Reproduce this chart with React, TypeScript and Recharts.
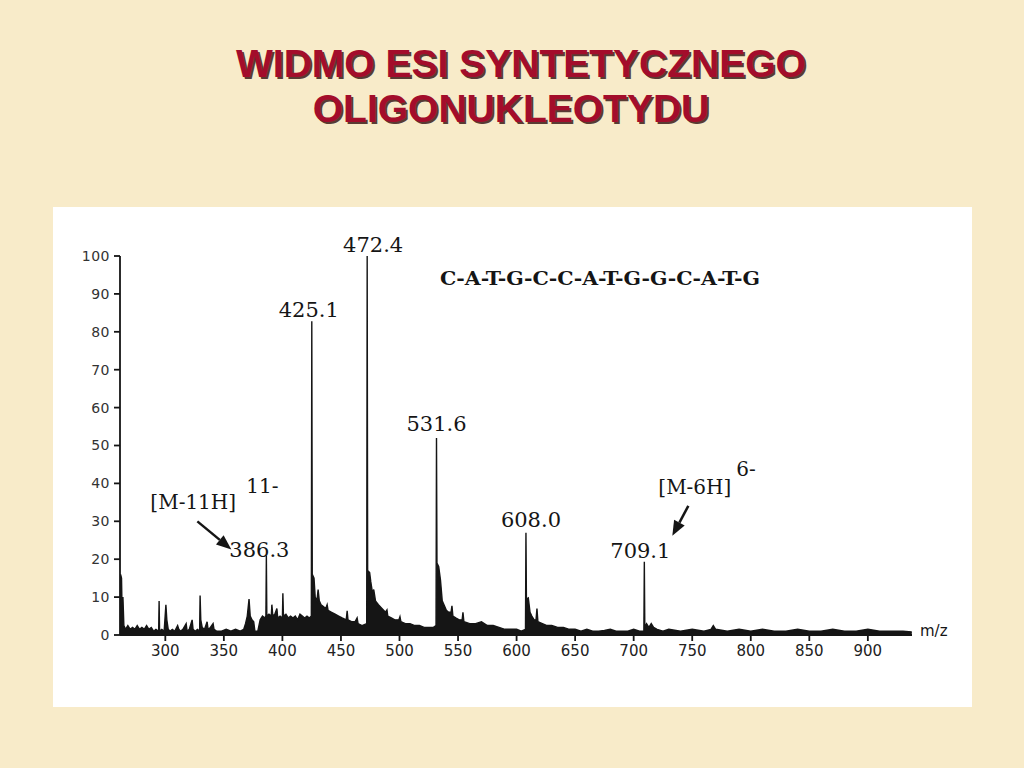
import React from 'react';
import { ComposedChart, Area, XAxis, YAxis, ReferenceDot } from 'recharts';

// [m/z, relative intensity %]
const spectrum: [number, number][] = [
  [261.4, 0], [261.8, 16], [262.6, 15], [263.2, 4], [263.8, 10], [264.6, 2.5], [266, 1.5], [268, 2.5],
  [270, 1.5], [272, 2], [274, 1.5], [276, 2.5], [278, 1.5], [280, 2], [282, 1.5], [284, 2.5], [286, 1.5],
  [288, 2], [290, 1], [292, 1.5], [294.3, 1], [294.7, 9], [295.1, 1], [297, 1.5], [299, 1], [300.5, 8],
  [301.3, 4], [302.5, 1.5], [304, 1], [306, 1.5], [308, 1], [310.5, 2.5], [311.5, 1.5], [313, 1], [315, 1.5],
  [317.8, 3], [318.6, 1], [320.5, 1.5], [322.9, 4], [323.7, 1.5], [325.5, 1], [327.5, 1.5], [329.3, 1],
  [329.7, 10.4], [330.3, 4], [331.5, 2], [333.5, 1.5], [335.7, 3.5], [336.5, 1.5], [338.5, 2], [340.8, 3],
  [341.6, 1.5], [344, 1], [348, 1], [352, 1.5], [356, 1], [360, 1.5], [364, 1], [367, 1.5], [368.5, 3],
  [370, 5], [371.5, 9.5], [372.5, 5], [374, 4], [375.5, 3.5], [376.5, 1], [379, 1], [381, 4], [383, 5],
  [385, 4.5], [385.9, 5], [386.3, 21], [386.7, 5], [388.5, 5.5], [390.5, 5], [391, 8], [391.8, 5],
  [393.5, 5.5], [395.3, 7], [396, 4.5], [398, 5], [400, 4.5], [400.4, 11], [400.9, 5], [403, 5.5],
  [405, 4.5], [407, 5], [409, 4.5], [411, 5], [413, 4], [415, 5.5], [417, 5], [419, 4.5], [421, 5],
  [423, 4.5], [424.7, 5], [425.1, 82.8], [425.5, 16], [427, 15], [428, 10], [429.5, 9], [430.5, 12],
  [431.5, 9], [433, 8], [435, 7.5], [437, 7], [438.2, 8], [439, 6.5], [442, 6], [445, 5.5], [448, 5],
  [451, 4.5], [454.5, 4], [455.3, 6.4], [456, 4], [459, 3.5], [462, 3.5], [463.8, 4.5], [464.6, 3],
  [468, 2.5], [472, 3], [472.4, 100], [472.8, 17], [474.5, 16.5], [475.5, 14], [477, 11], [478, 12],
  [479.5, 9], [482, 8], [485, 7], [488, 6], [489.3, 6.6], [490, 5], [493, 4.5], [496, 4], [499.5, 4],
  [500.4, 4.8], [501.2, 3.5], [505, 3], [509, 3], [513, 2.5], [517, 2.5], [521, 2], [525, 2], [529, 2],
  [531.2, 2.5], [531.6, 52], [532, 19], [533.5, 18], [535, 14.5], [536.5, 9], [538, 8], [540, 6.5],
  [542, 6], [544, 6], [544.8, 7.7], [545.6, 5], [548, 4.5], [551, 4], [553.5, 4], [554.2, 6], [555, 3.5],
  [560, 3], [565, 3], [570, 3.5], [575, 2.5], [580, 2.5], [585, 2], [590, 1.5], [595, 1.5], [600, 1.5],
  [604, 1], [607.6, 1.5], [608, 27], [608.4, 9.5], [610, 9.8], [611.5, 6], [613, 5], [615, 4], [616.6, 4],
  [617.4, 7], [618.2, 3.5], [622, 3], [626, 2.5], [630, 2.5], [635, 2], [640, 2], [645, 1.5], [650, 1.5],
  [655, 1], [660, 1.5], [665, 1], [670, 1], [675, 1.2], [680, 1.5], [685, 1], [690, 1], [695, 1],
  [700, 1.5], [705, 1], [708.7, 1], [709.1, 19.3], [709.5, 2], [711, 3], [713, 2], [715, 3], [717, 2],
  [720, 1.5], [725, 1], [730, 1.5], [740, 1], [750, 1.5], [760, 1], [766, 1.5], [768, 2.5], [770, 1.5],
  [780, 1], [790, 1.5], [800, 1], [810, 1.5], [820, 1], [830, 1], [840, 1.5], [850, 1], [860, 1],
  [870, 1.5], [880, 1], [890, 1], [900, 1.5], [910, 1], [920, 1], [930, 1], [937.5, 0.8],
];

const xTicks = [300, 350, 400, 450, 500, 550, 600, 650, 700, 750, 800, 850, 900];
const yTicks = [0, 10, 20, 30, 40, 50, 60, 70, 80, 90, 100];

const peaks = [
  { mz: 425.1, value: 82.8, text: '425.1' },
  { mz: 472.4, value: 100, text: '472.4' },
  { mz: 531.6, value: 52, text: '531.6' },
  { mz: 608.0, value: 27, text: '608.0' },
];

const ions = [
  { mz: 386.3, value: 21, text: '386.3', ion: '[M-11H]', charge: '11-' },
  { mz: 709.1, value: 19.3, text: '709.1', ion: '[M-6H]', charge: '6-' },
];

const sequence = 'C-A-T-G-C-C-A-T-G-G-C-A-T-G';
const titleLines = ['WIDMO ESI SYNTETYCZNEGO', 'OLIGONUKLEOTYDU'];

// label offsets in px from the peak top
const peakOffsets: Record<string, [number, number]> = {
  '425.1': [-3, -4],
  '472.4': [6, -4],
  '531.6': [0, -7],
  '608.0': [5, -6],
};

const ionLayout: Record<string, any> = {
  '386.3': { label: [-7, 2], ion: [-116, -46], charge: [-20, -62], arrow: [-69, -34, -35, -6] },
  '709.1': { label: [-4, -4], ion: [14, -68], charge: [92, -86], arrow: [44, -56, 28, -26] },
};

const data = spectrum.map(([mz, intensity]) => ({ mz, intensity }));

const ink = '#151515';
const serif = '"DejaVu Serif", serif';

const Arrow = ({ x1, y1, x2, y2 }: any) => {
  const a = Math.atan2(y2 - y1, x2 - x1);
  const len = 15;
  const w = 6;
  const bx = x2 - len * Math.cos(a);
  const by = y2 - len * Math.sin(a);
  const px = -Math.sin(a) * w;
  const py = Math.cos(a) * w;
  return (
    <g>
      <line x1={x1} y1={y1} x2={bx} y2={by} stroke={ink} strokeWidth={2.5} />
      <polygon points={`${x2},${y2} ${bx + px},${by + py} ${bx - px},${by - py}`} fill={ink} />
    </g>
  );
};

export default function App() {
  return (
    <div style={{ position: 'absolute', left: 0, top: 0, width: 1024, height: 768, background: '#f8ebc9', overflow: 'hidden' }}>
      {titleLines.map((line, i) => (
        <div
          key={line}
          style={{
            position: 'absolute',
            left: i === 0 ? 9 : -1,
            top: 41 + i * 45,
            width: 1024,
            textAlign: 'center',
            fontFamily: '"Liberation Sans", Arial, sans-serif',
            fontWeight: 'bold',
            fontSize: 39,
            lineHeight: '45px',
            color: '#a30d2b',
            textShadow: '2px 2px 0 rgba(45,10,10,0.8)',
          }}
        >
          {line}
        </div>
      ))}

      <div style={{ position: 'absolute', left: 53, top: 207, width: 919, height: 500, background: '#ffffff' }}>
        <svg style={{ position: 'absolute', left: 0, top: 0 }} width={919} height={500}>
          <text x={387} y={78} textLength={320} lengthAdjust="spacingAndGlyphs" fontFamily={serif} fontSize={19} fontWeight="bold" fill={ink}>
            {sequence}
          </text>
        </svg>
        <ComposedChart
          width={919}
          height={500}
          data={data}
          margin={{ top: 49, right: 60, bottom: 42, left: 17 }}
          style={{ position: 'absolute', left: 0, top: 0 }}
        >
          <XAxis
            type="number"
            dataKey="mz"
            domain={[261.3, 937.7]}
            allowDataOverflow
            ticks={xTicks}
            interval={0}
            height={30}
            tickSize={6}
            tickMargin={4}
            stroke={ink}
            strokeWidth={1.8}
            tick={{ fill: '#222', fontSize: 15, fontFamily: '"DejaVu Sans", sans-serif' }}
          />
          <YAxis
            type="number"
            domain={[0, 100]}
            ticks={yTicks}
            interval={0}
            width={50}
            tickSize={6}
            tickMargin={4}
            stroke={ink}
            strokeWidth={1.8}
            tick={{ fill: '#333', fontSize: 14, fontFamily: '"DejaVu Sans", sans-serif', letterSpacing: 0.5 }}
          />
          <Area
            type="linear"
            dataKey="intensity"
            stroke={ink}
            strokeWidth={1.4}
            fill={ink}
            fillOpacity={1}
            dot={false}
            activeDot={false}
            isAnimationActive={false}
          />
          {peaks.map((p) => (
            <ReferenceDot
              key={p.text}
              x={p.mz}
              y={p.value}
              r={0}
              ifOverflow="visible"
              shape={(s: any) => (
                <text
                  x={s.cx + peakOffsets[p.text][0]}
                  y={s.cy + peakOffsets[p.text][1]}
                  textAnchor="middle"
                  fontFamily={serif}
                  fontSize={21}
                  fill={ink}
                >
                  {p.text}
                </text>
              )}
            />
          ))}
          {ions.map((p) => {
            const l = ionLayout[p.text];
            return (
              <ReferenceDot
                key={p.text}
                x={p.mz}
                y={p.value}
                r={0}
                ifOverflow="visible"
                shape={(s: any) => (
                  <g fontFamily={serif} fill={ink}>
                    <text x={s.cx + l.label[0]} y={s.cy + l.label[1]} textAnchor="middle" fontSize={21}>
                      {p.text}
                    </text>
                    <text x={s.cx + l.ion[0]} y={s.cy + l.ion[1]} fontSize={20}>
                      {p.ion}
                    </text>
                    <text x={s.cx + l.charge[0]} y={s.cy + l.charge[1]} fontSize={20}>
                      {p.charge}
                    </text>
                    <Arrow
                      x1={s.cx + l.arrow[0]}
                      y1={s.cy + l.arrow[1]}
                      x2={s.cx + l.arrow[2]}
                      y2={s.cy + l.arrow[3]}
                    />
                  </g>
                )}
              />
            );
          })}
          <ReferenceDot
            x={937.7}
            y={0}
            r={0}
            ifOverflow="visible"
            shape={(s: any) => (
              <text x={s.cx + 8} y={s.cy + 1} fontFamily='"DejaVu Sans", sans-serif' fontSize={15} fill={ink}>
                m/z
              </text>
            )}
          />
        </ComposedChart>
      </div>
    </div>
  );
}
